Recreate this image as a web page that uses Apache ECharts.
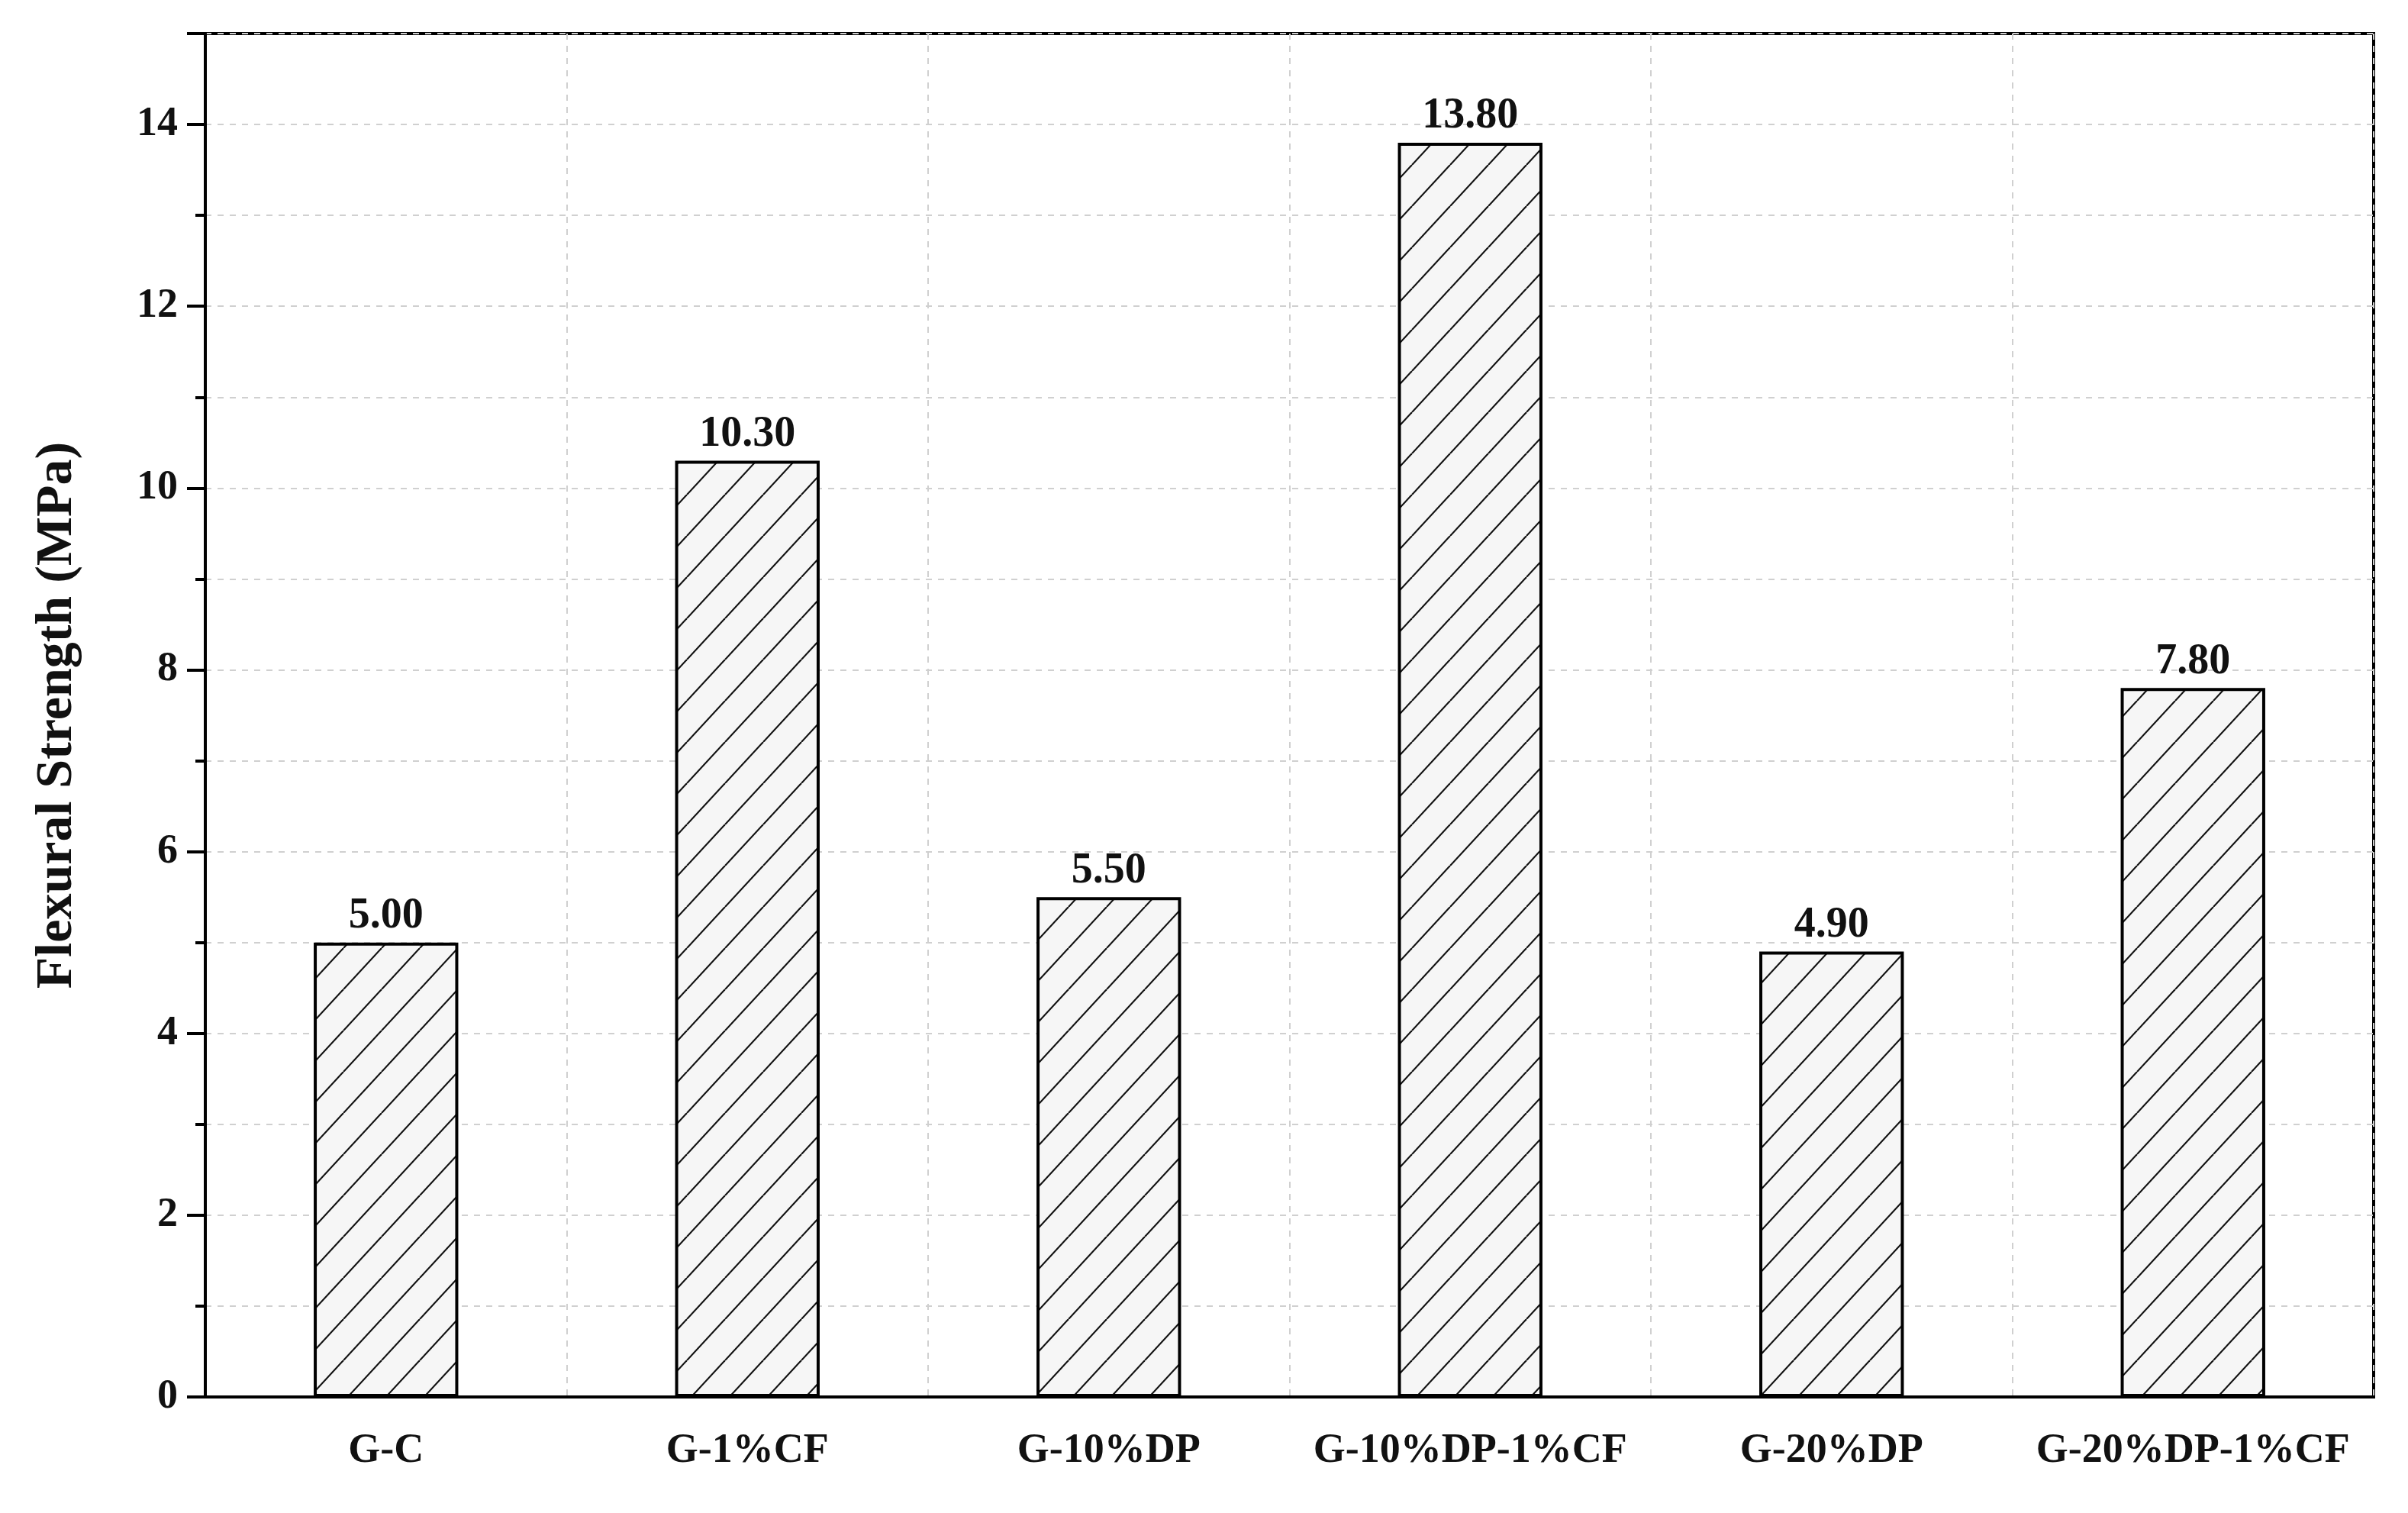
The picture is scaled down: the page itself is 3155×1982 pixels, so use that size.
<!DOCTYPE html>
<html><head><meta charset="utf-8">
<script src="https://cdn.jsdelivr.net/npm/echarts@6/dist/echarts.min.js"></script>
<style>html,body{margin:0;padding:0;background:#fff}#c{width:3155px;height:1982px}</style>
</head><body><div id="c"></div>
<script>
const categories = ['G-C','G-1%CF','G-10%DP','G-10%DP-1%CF','G-20%DP','G-20%DP-1%CF'];
const values = [5.00, 10.30, 5.50, 13.80, 4.90, 7.80];
const yTicks = [0,2,4,6,8,10,12,14];

const pc = document.createElement('canvas');
const W = 50, H = 54;
pc.width = W; pc.height = H;
const g = pc.getContext('2d');
g.fillStyle = '#f6f6f6'; g.fillRect(0,0,W,H);
g.strokeStyle = '#111'; g.lineWidth = 2.2;
[[-W,0],[0,0],[W,0]].forEach(([ox])=>{g.beginPath();g.moveTo(ox,H);g.lineTo(ox+W,0);g.stroke();});

const font = '"Liberation Serif","Times New Roman",serif';
const chart = echarts.init(document.getElementById('c'));
chart.setOption({
  animation:false,
  grid:{left:269,right:45,top:44,bottom:152,show:true,borderColor:'#000',borderWidth:4},
  xAxis:[{
    type:'category',data:categories,
    axisLine:{lineStyle:{color:'#000',width:4}},
    axisTick:{alignWithLabel:true,interval:0,length:24,lineStyle:{width:4,color:'#000'}},
    axisLabel:{interval:0,fontFamily:font,fontWeight:'bold',fontSize:54,color:'#111',margin:44},
    splitLine:{show:true,interval:0,lineStyle:{type:[8,8],color:'#d0d0d0',width:2}}
  },{
    type:'category',data:categories,position:'bottom',
    axisLine:{show:false},axisLabel:{show:false},splitLine:{show:false},
    axisTick:{interval:0,length:13,lineStyle:{width:4,color:'#000'}}
  }],
  yAxis:{
    type:'value',min:0,max:15,interval:2,
    name:'Flexural Strength (MPa)',nameLocation:'middle',nameGap:160,
    nameTextStyle:{fontFamily:font,fontWeight:'bold',fontSize:68,color:'#111'},
    axisLine:{show:true,lineStyle:{color:'#000',width:4}},
    axisTick:{show:true,length:24,lineStyle:{width:4,color:'#000'}},
    minorTick:{show:true,splitNumber:2,length:13,lineStyle:{width:4,color:'#000'}},
    axisLabel:{fontFamily:font,fontWeight:'bold',fontSize:54,color:'#111',margin:36,
      formatter:v=>yTicks.includes(v)?String(v):''},
    splitLine:{show:true,lineStyle:{type:[8,8],color:'#d0d0d0',width:2}},
    minorSplitLine:{show:true,lineStyle:{type:[8,8],color:'#d0d0d0',width:2}}
  },
  series:[{
    type:'bar',data:values,barWidth:'40%',
    itemStyle:{color:{image:pc,repeat:'repeat'},borderColor:'#000',borderWidth:4},
    label:{show:true,position:'top',distance:6,formatter:p=>p.value.toFixed(2),
      fontFamily:font,fontWeight:'bold',fontSize:56,color:'#111'}
  }]
});
</script></body></html>
